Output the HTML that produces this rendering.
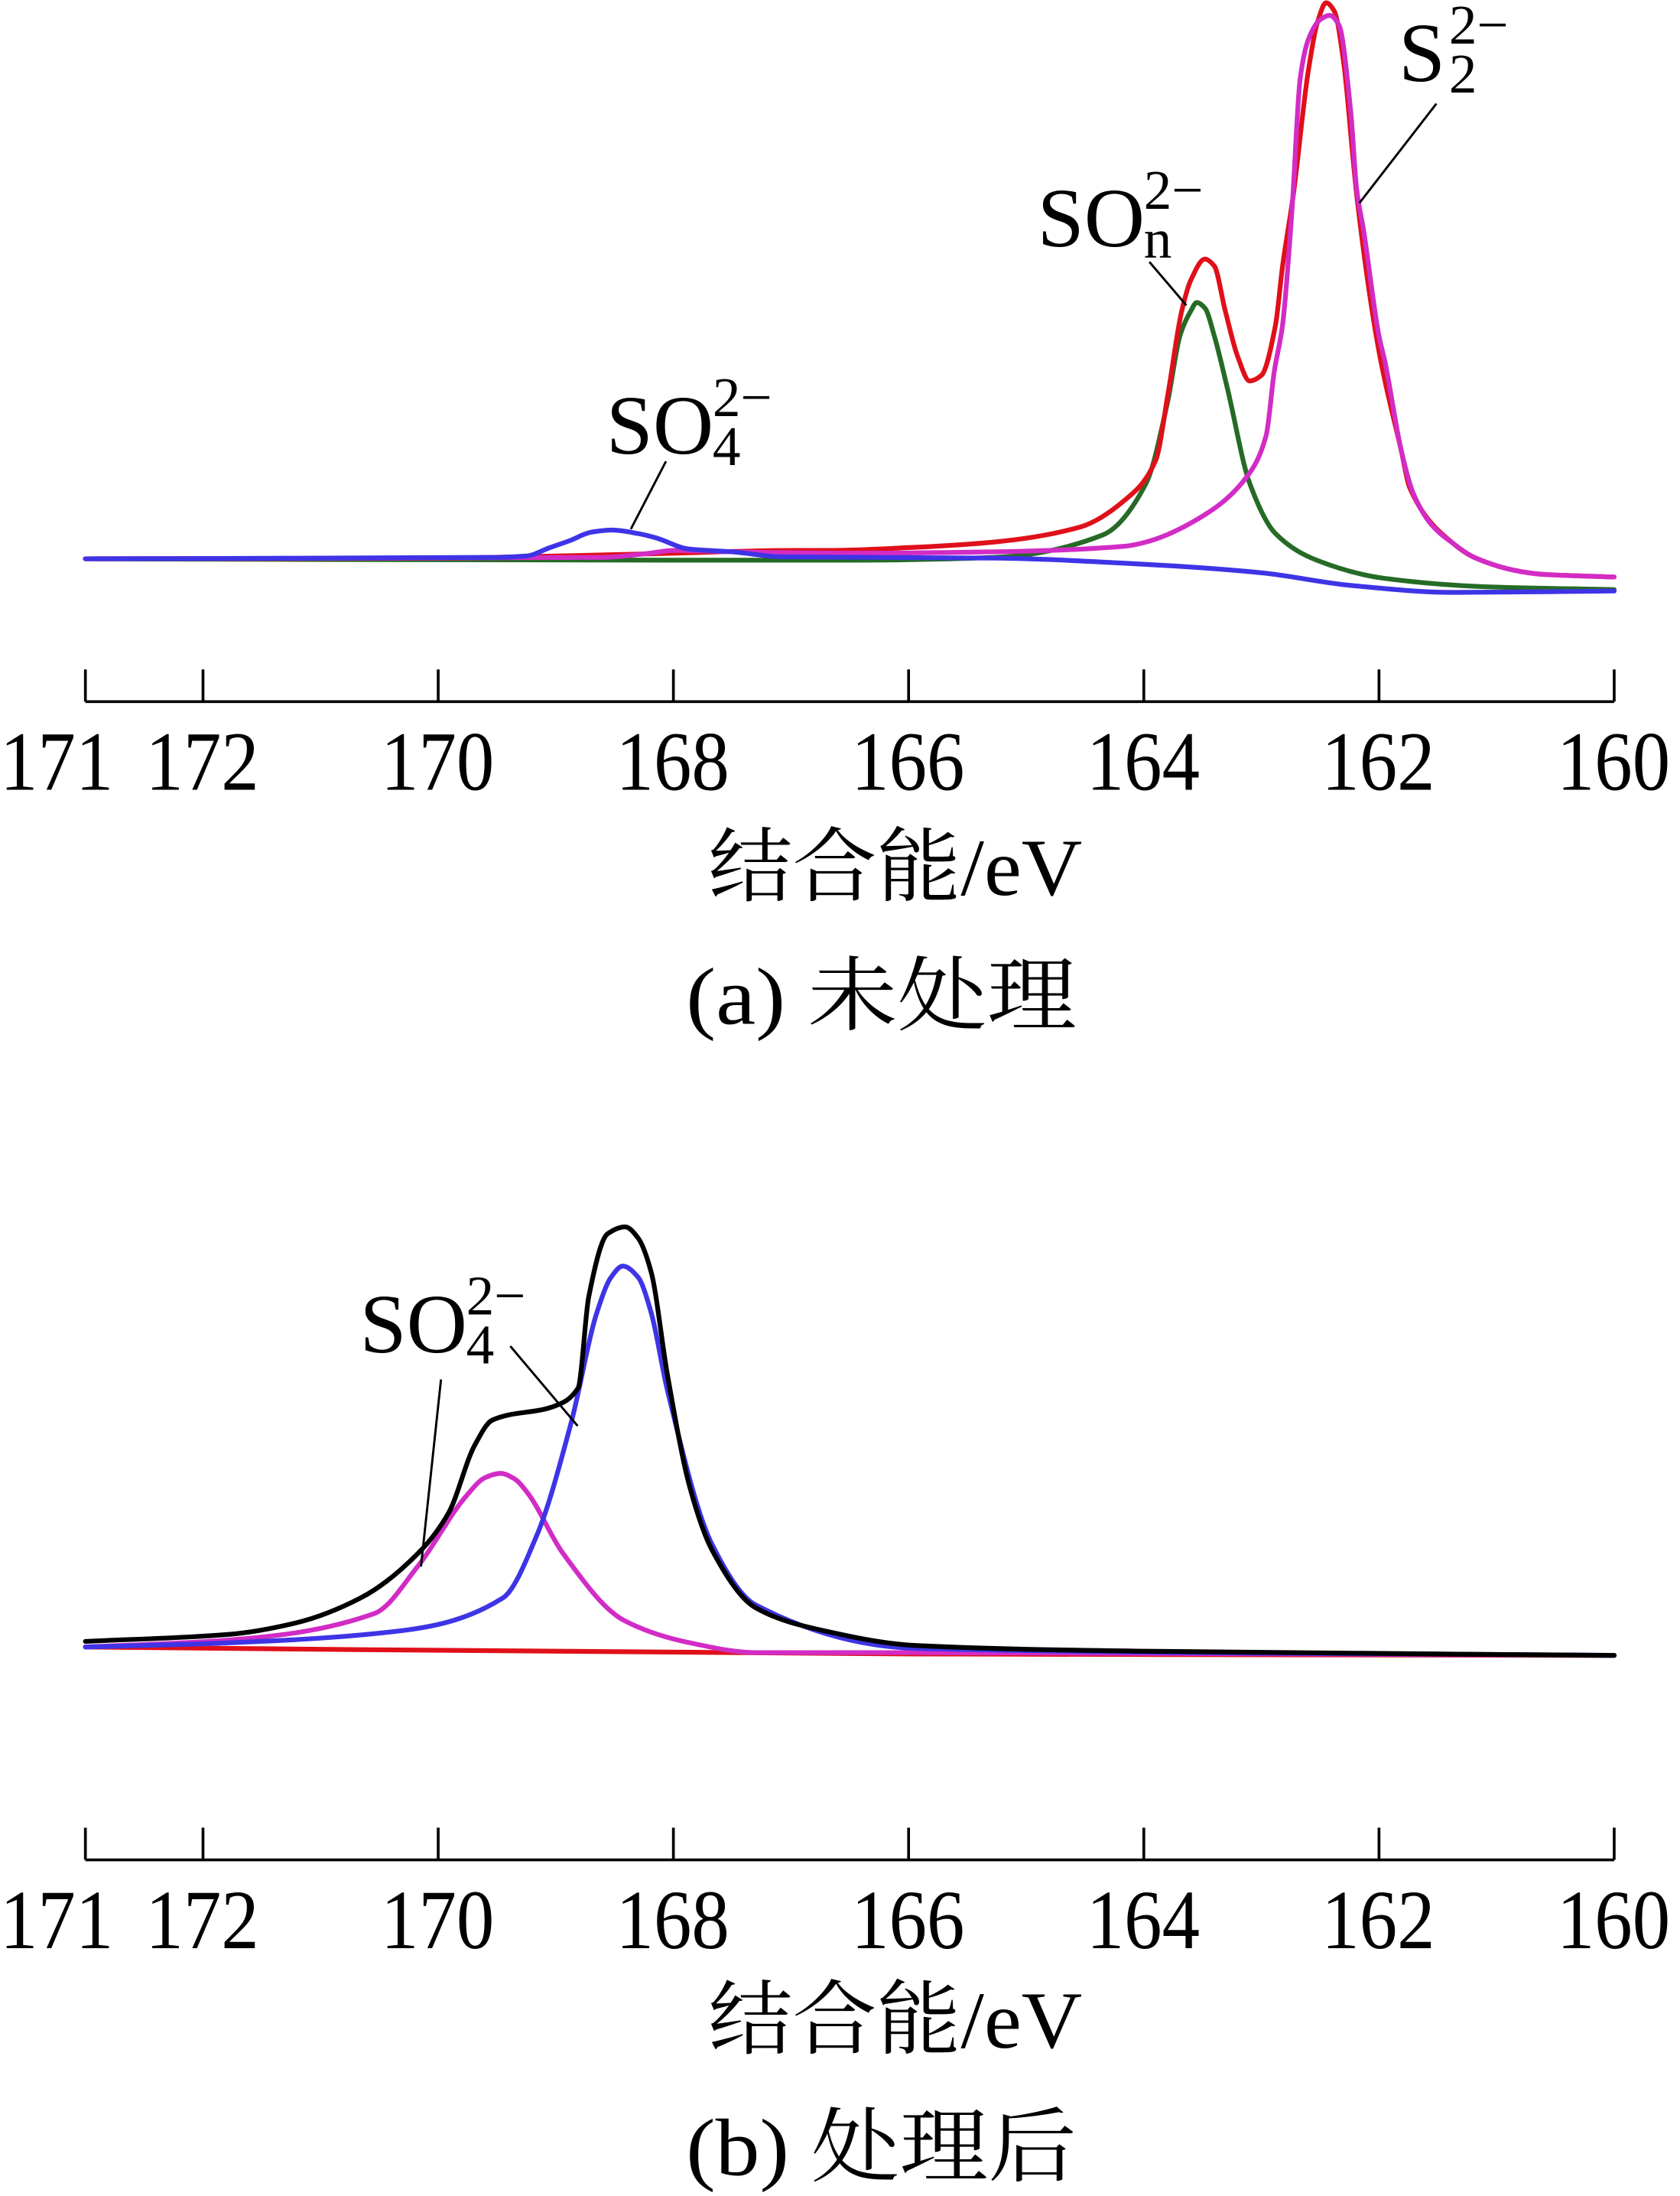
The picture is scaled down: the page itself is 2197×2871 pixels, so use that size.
<!DOCTYPE html>
<html><head><meta charset="utf-8"><style>
html,body{margin:0;padding:0;background:#fff;}
svg{display:block;}
text{font-family:"Liberation Serif","Noto Serif CJK SC",serif;fill:#000;}
</style></head><body>
<svg id="chart" xmlns="http://www.w3.org/2000/svg" width="2197" height="2871" viewBox="0 0 1200 1568" preserveAspectRatio="none">
<g id="panelA"></g>
<g id="panelB"></g>
</svg>
<script>
// ---- data ----
const tickValues = [173, 172, 170, 168, 166, 164, 162, 160];
const tickLabels = ["171", "172", "170", "168", "166", "164", "162", "160"];

// panel (a) series: binding energies (eV) and intensities (a.u.)
const redA_E = [173,170,169,168,167,166.66,166,165.27,164.53,164.16,163.9,163.79,163.68,163.6,163.48,163.4,163.31,163.2,163.1,163.0,162.88,162.82,162.73,162.6,162.52,162.45,162.38,162.3,162.22,162.19,162.0,161.81,161.74,161.37,161.19,160.8,160.62,160];
const redA_I = [26,26.5,28,30,32,32,34,38,49,68,96,146,202,225,240,235,204,170,153,157,193,235,285,375,410,423,417,380,311,286,174,103,77,37,27,17,15,13];
const magA_E = [173,168.6,168.2,168.0,167.5,166.5,165.27,164.16,163.98,163.49,163.12,162.96,162.89,162.82,162.74,162.67,162.6,162.5,162.42,162.34,162.24,162.19,162.13,162.0,161.95,161.81,161.71,161.55,161.37,161.19,160.8,160.62,160];
const magA_I = [26,27,30,32,31,30,31,35,38,57,85,114,160,193,275,369,397,411,414,407,345,290,260,185,167,103,73,50,37,27,17,15,13];
const greenA_E = [173,168,166.5,165.27,164.35,163.98,163.8,163.69,163.6,163.55,163.48,163.4,163.29,163.1,162.88,162.53,161.95,161.08,160];
const greenA_I = [26,25,25,27,43,80,137,186,203,209,205,185,148,80,44,25,12,6,4];
const blueA_E = [173,169.5,169.25,169.05,168.88,168.7,168.52,168.3,168.15,167.87,167.5,167.08,165.27,163.98,163.0,162.24,161.37,160];
const blueA_I = [26,27,28,34,39,45,46.5,44,41,33,31,27.4,26.5,22,16,7,2,3];

// panel (b) series
const blackB_E = [173,171.78,171.22,170.66,170.17,169.91,169.69,169.54,169.01,168.81,168.72,168.56,168.41,168.3,168.19,168.05,167.86,167.67,167.3,166.74,165.93,164,160];
const blackB_I = [13,18,26,44,76,105,153,171,181,194,259,304,309,301,277,203,123,78,37,21,10,6,3];
const blueB_E = [173,171.78,170.28,169.45,169.16,168.87,168.65,168.53,168.43,168.3,168.19,168.05,167.67,167.3,165.93,160];
const blueB_I = [9,12,21,44,89,169,248,273,281,273,248,192,82,39,8,3];
const magB_E = [173,171.78,170.54,170.17,169.76,169.6,169.47,169.35,169.24,168.94,168.42,167.86,167.3,165.93,160];
const magB_I = [9,14,33,67,117,130,133,129,119,76,28,12,5,5,3];
const redB_E = [173,165.93,160];
const redB_I = [9,4,3];

// ---- rendering ----
const NS = "http://www.w3.org/2000/svg";
function xS(E){ return 313 + (170 - E) * 84; }
function mk(tag, attrs, parent){
  const el = document.createElementNS(NS, tag);
  for (const k in attrs) el.setAttribute(k, attrs[k]);
  parent.appendChild(el);
  return el;
}
// monotone cubic (Fritsch-Carlson) path through points sorted by x
function pathFrom(E, I, yS){
  const xs = E.map(xS), ys = I.map(yS), n = xs.length;
  const d = [], m = new Array(n);
  for (let i=0;i<n-1;i++) d.push((ys[i+1]-ys[i])/(xs[i+1]-xs[i]));
  m[0] = d[0]; m[n-1] = d[n-2];
  for (let i=1;i<n-1;i++){
    if (d[i-1]*d[i] <= 0) m[i] = 0;
    else {
      const h0 = xs[i]-xs[i-1], h1 = xs[i+1]-xs[i];
      const w1 = 2*h1+h0, w2 = h1+2*h0;
      m[i] = (w1+w2)/(w1/d[i-1]+w2/d[i]);
    }
  }
  let p = "M"+xs[0].toFixed(2)+","+ys[0].toFixed(2);
  for (let i=0;i<n-1;i++){
    const h = xs[i+1]-xs[i];
    p += "C"+(xs[i]+h/3).toFixed(2)+","+(ys[i]+m[i]*h/3).toFixed(2)+" "+(xs[i+1]-h/3).toFixed(2)+","+(ys[i+1]-m[i+1]*h/3).toFixed(2)+" "+xs[i+1].toFixed(2)+","+ys[i+1].toFixed(2);
  }
  return p;
}
function drawSeries(g, E, I, yS, color, name){
  const p = mk("path", {d: pathFrom(E,I,yS), fill:"none", stroke:color, "stroke-width":"3.4", "stroke-linejoin":"round", "stroke-linecap":"round"}, g);
  
  
}
function drawAxis(g, axisY, labelBase, titleBase, capBase, capText, capName){
  const ax = mk("line", {x1:xS(173), x2:xS(160), y1:axisY, y2:axisY, stroke:"#000", "stroke-width":"2"}, g);
  
  
  tickValues.forEach((v,i)=>{
    const t = mk("line", {x1:xS(v), x2:xS(v), y1:axisY-23, y2:axisY, stroke:"#000", "stroke-width":"2"}, g);
    
    
    const lx = i===0 ? 0 : xS(v) - 41;
    const tx = mk("text", {x:lx, y:labelBase, "font-size":"60", textLength:"81", lengthAdjust:"spacingAndGlyphs"}, g);
    tx.textContent = tickLabels[i];
    
    
  });
  const ti = mk("text", {x:506, y:titleBase, "font-size":"58", textLength:"267", lengthAdjust:"spacingAndGlyphs"}, g);
  ti.textContent = "结合能/eV";
  
  
  const cp = mk("text", {x:490, y:capBase, "font-size":"58", textLength:"279", lengthAdjust:"spacingAndGlyphs"}, g);
  cp.textContent = capText;
  
  
}
function label(g, x, base, main, sub, name){
  const t = mk("text", {x:x, y:base, "font-size":"60"}, g);
  t.textContent = main;
  
  
  const w = main === "S" ? 36 : 76;
  const s = mk("text", {x:x+w, y:base+8, "font-size":"40"}, g);
  s.textContent = sub;
  
  
  const p = mk("text", {x:x+w, y:base-27, "font-size":"40"}, g);
  p.textContent = "2−";
  
  
}
function leader(g, x1,y1,x2,y2){
  const l = mk("line", {x1:x1,y1:y1,x2:x2,y2:y2, stroke:"#000", "stroke-width":"1.6"}, g);
  
  
}

// Panel A
const gA = document.getElementById("panelA");
const yA = v => 425 - v;
drawSeries(gA, greenA_E, greenA_I, yA, "#256b26", "son-fit-curve");
drawSeries(gA, redA_E, redA_I, yA, "#e0101a", "envelope-curve-a");
drawSeries(gA, magA_E, magA_I, yA, "#d22cc6", "s2-fit-curve");
drawSeries(gA, blueA_E, blueA_I, yA, "#3e34e6", "so4-fit-curve-a");
drawAxis(gA, 501, 564, 639, 731, "(a)  未处理", "caption-a");
label(gA, 433, 324, "SO", "4", "so4-label-a");
leader(gA, 475.7, 329.4, 450.6, 377.8);
label(gA, 741, 176, "SO", "n", "son-label");
leader(gA, 821, 187, 847.4, 218);
label(gA, 999, 58, "S", "2", "s2-label");
leader(gA, 1026, 74, 971, 145);

// Panel B
const gB = document.getElementById("panelB");
const yB = v => 1185 - v;
drawSeries(gB, redB_E, redB_I, yB, "#e0101a", "background-curve-b");
drawSeries(gB, magB_E, magB_I, yB, "#d22cc6", "so4-fit-curve-1");
drawSeries(gB, blueB_E, blueB_I, yB, "#3e34e6", "so4-fit-curve-2");
drawSeries(gB, blackB_E, blackB_I, yB, "#000000", "envelope-curve-b");
drawAxis(gB, 1328, 1391, 1462, 1553, "(b)  处理后", "caption-b");
label(gB, 257, 965.5, "SO", "4", "so4-label-b");
leader(gB, 315, 985, 300.7, 1118.6);
leader(gB, 364.5, 961.2, 412.6, 1018.1);
</script>
</body></html>
